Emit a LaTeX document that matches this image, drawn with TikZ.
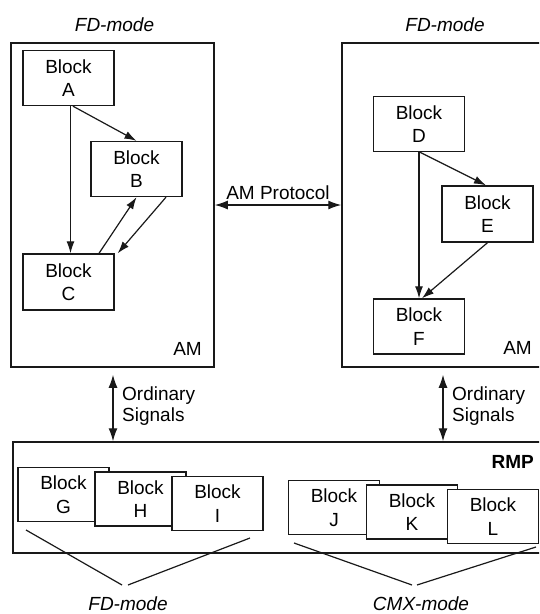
\documentclass[tikz,border=0pt]{standalone}
\usepackage{fontspec}
\setmainfont{Liberation Sans}
\usetikzlibrary{arrows.meta}

\begin{document}
\begin{tikzpicture}[x=1pt,y=1pt,
  every node/.style={font=\fontsize{19}{23.5}\selectfont},
  frame/.style={draw=black!90, line width=1.5pt, inner sep=0pt},
  blk/.style={draw=black!90, fill=white, line width=1.4pt,
    minimum width=91pt, minimum height=55pt, inner sep=0pt, align=center},
  sblk/.style={blk, minimum height=54pt},
  link/.style={draw=black!90, line width=1.2pt, -{Latex[length=12pt,width=8pt]}},
  biglink/.style={draw=black!90, line width=1.3pt,
    {Latex[length=13pt,width=9pt]}-{Latex[length=13pt,width=9pt]}},
  brace/.style={draw=black!90, line width=1.2pt},
  mode/.style={font=\fontsize{19}{23}\selectfont\itshape, inner sep=0pt},
  sig/.style={font=\fontsize{19}{20.5}\selectfont, align=left, inner sep=0pt, anchor=north west},
  tag/.style={inner sep=0pt, anchor=base east}
]
\useasboundingbox (0,0) rectangle (539,-614);
\clip (0,0) rectangle (539,-614);

% Outer frames: two application modules and the RMP
\node[frame, minimum width=203pt, minimum height=324pt] (amL) at (112.5,-205) {};
\node[frame, minimum width=210pt, minimum height=324pt] (amR) at (447,-205) {};
\node[frame, minimum width=560pt, minimum height=111pt] (rmp) at (293,-497.5) {};

% Mode captions above the modules
\node[mode, anchor=base] (capL) at (114.5,-31.5) {FD-mode};
\node[mode, anchor=base] (capR) at (445,-31.5) {FD-mode};

% Module tags
\node[tag] (tagL) at (202,-355) {AM};
\node[tag] (tagR) at (532,-354) {AM};
\node[tag, font=\fontsize{19}{23}\selectfont\bfseries] (tagRMP) at (534,-468) {RMP};

% Blocks of the left module
\node[blk] (A) at (68.5,-78) {Block\\A};
\node[blk] (B) at (136.5,-169) {Block\\B};
\node[blk, minimum height=56pt] (C) at (68.5,-282) {Block\\C};

% Blocks of the right module
\node[blk] (D) at (419,-124) {Block\\D};
\node[blk, minimum height=56pt] (E) at (487.5,-214) {Block\\E};
\node[blk] (F) at (419,-326.5) {Block\\F};

% Links inside the left module
\draw[link] ([xshift=2pt]A.south) -- ([xshift=2pt]C.north);
\draw[link] ([xshift=4.5pt]A.south) -- (B.north);
\draw[link] ([xshift=30.5pt]C.north) -- (B.south);
\draw[link] ([xshift=29.5pt]B.south) -- ([xshift=3pt]C.north east);

% Links inside the right module
\draw[link] (D.south) -- (F.north);
\draw[link] ([xshift=1pt]D.south) -- ([xshift=-1.5pt]E.north);
\draw[link] (E.south) -- ([xshift=3pt]F.north);

% Protocol between the modules
\draw[biglink] (amL.east) -- node[pos=0.5, anchor=base, yshift=6pt, inner sep=0pt] (proto) {AM Protocol} (amR.west);

% Ordinary signals to the RMP
\draw[biglink] ([xshift=0.5pt,yshift=-7pt]amL.south) -- ([xshift=0.5pt]amL.south |- rmp.north);
\draw[biglink] ([xshift=-4pt,yshift=-7pt]amR.south) -- ([xshift=-4pt]amR.south |- rmp.north);
\node[sig] (sigL) at (122,-387) {Ordinary\\Signals};
\node[sig] (sigR) at (452,-387) {Ordinary\\Signals};

% Blocks hosted by the RMP
\node[sblk] (G) at (63.5,-494.5) {Block\\G};
\node[sblk] (H) at (140.5,-499) {Block\\H};
\node[sblk] (I) at (217.5,-503.5) {Block\\I};
\node[sblk] (J) at (334,-507.5) {Block\\J};
\node[sblk] (K) at (412,-512) {Block\\K};
\node[sblk] (L) at (493,-516.5) {Block\\L};

% Mode captions below the RMP
\node[mode, anchor=base] (capFD) at (128,-610) {FD-mode};
\node[mode, anchor=base] (capCMX) at (421,-610) {CMX-mode};

% Grouping lines
\coordinate (g1) at (26,-530);
\coordinate (g2) at (122,-585);
\coordinate (g3) at (128,-585);
\coordinate (g4) at (250,-538);
\coordinate (c1) at (294,-543);
\coordinate (c2) at (412,-585);
\coordinate (c3) at (417,-585);
\coordinate (c4) at (536,-547);
\draw[brace] (g1) -- (g2);
\draw[brace] (g3) -- (g4);
\draw[brace] (c1) -- (c2);
\draw[brace] (c3) -- (c4);
\end{tikzpicture}
\end{document}
